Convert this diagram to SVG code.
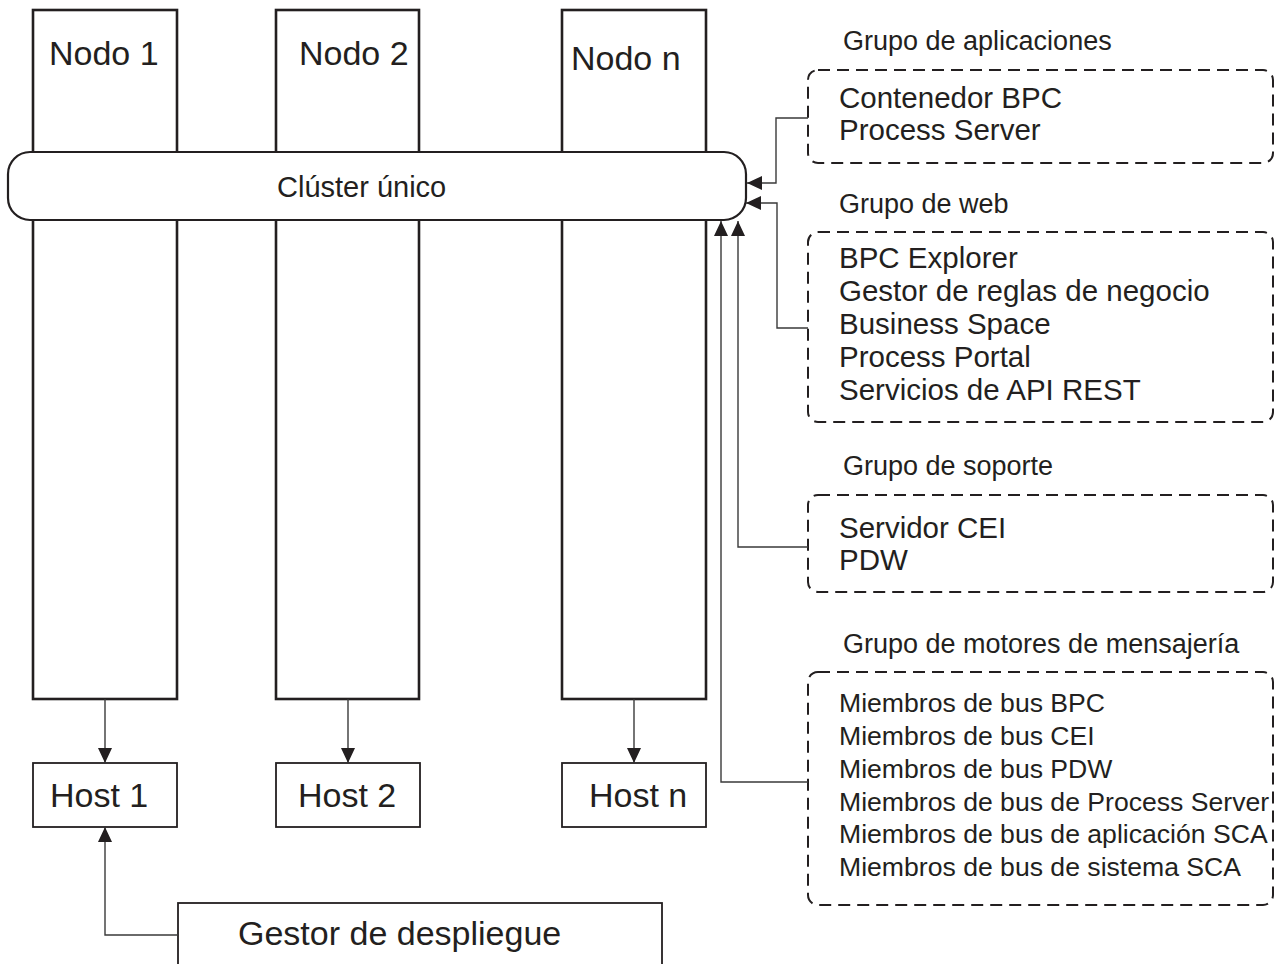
<svg xmlns="http://www.w3.org/2000/svg" width="1275" height="964" viewBox="0 0 1275 964">
<style>
text{font-family:"Liberation Sans",Arial,sans-serif;fill:#231f20}
.big{font-size:34px}
.clu{font-size:29px}
.item{font-size:29.5px}
.title{font-size:27px}
.msg{font-size:26.6px}
.node{fill:#fff;stroke:#231f20;stroke-width:2.6}
.host{fill:#fff;stroke:#231f20;stroke-width:1.8}
.grp{fill:none;stroke:#231f20;stroke-width:2;stroke-dasharray:12 7}
.conn{fill:none;stroke:#3a3a3a;stroke-width:1.4}
</style>
<defs>
<marker id="arr" markerUnits="userSpaceOnUse" markerWidth="16" markerHeight="14" refX="15" refY="7" orient="auto">
<path d="M0,0 L15,7 L0,14 Z" fill="#231f20"/>
</marker>
</defs>
<g id="node1"><rect class="node" x="33" y="10" width="144" height="689"/><text class="big" x="49" y="65">Nodo 1</text></g>
<g id="node2"><rect class="node" x="276" y="10" width="143" height="689"/><text class="big" x="299" y="65">Nodo 2</text></g>
<g id="noden"><rect class="node" x="562" y="10" width="144" height="689"/><text class="big" x="571" y="70">Nodo n</text></g>
<g id="cluster"><rect x="8" y="152" width="738" height="68" rx="22" fill="#fff" stroke="#231f20" stroke-width="2.2"/><text class="clu" x="277" y="197">Clúster único</text></g>
<g id="host1"><rect class="host" x="33" y="763" width="144" height="64"/><text class="big" x="50" y="807">Host 1</text></g>
<g id="host2"><rect class="host" x="276" y="763" width="144" height="64"/><text class="big" x="298" y="807">Host 2</text></g>
<g id="hostn"><rect class="host" x="562" y="763" width="144" height="64"/><text class="big" x="589" y="807">Host n</text></g>
<g id="gestor"><rect class="host" x="178" y="903" width="484" height="80"/><text class="big" x="238" y="945">Gestor de despliegue</text></g>
<g id="grupo-aplicaciones">
<text class="title" x="843" y="50">Grupo de aplicaciones</text>
<rect class="grp" x="808" y="70" width="465" height="93" rx="10"/>
<text class="item" x="839" y="108">Contenedor BPC</text>
<text class="item" x="839" y="140">Process Server</text>
</g>
<g id="grupo-web">
<text class="title" x="839" y="213">Grupo de web</text>
<rect class="grp" x="808" y="232" width="465" height="190" rx="10"/>
<text class="item" x="839" y="268">BPC Explorer</text>
<text class="item" x="839" y="301">Gestor de reglas de negocio</text>
<text class="item" x="839" y="334">Business Space</text>
<text class="item" x="839" y="367">Process Portal</text>
<text class="item" x="839" y="400">Servicios de API REST</text>
</g>
<g id="grupo-soporte">
<text class="title" x="843" y="475">Grupo de soporte</text>
<rect class="grp" x="808" y="495" width="465" height="97" rx="10"/>
<text class="item" x="839" y="538">Servidor CEI</text>
<text class="item" x="839" y="570">PDW</text>
</g>
<g id="grupo-mensajeria">
<text class="title" x="843" y="653">Grupo de motores de mensajería</text>
<rect class="grp" x="808" y="672" width="465" height="233" rx="10"/>
<text class="msg" x="839" y="712">Miembros de bus BPC</text>
<text class="msg" x="839" y="745">Miembros de bus CEI</text>
<text class="msg" x="839" y="778">Miembros de bus PDW</text>
<text class="msg" x="839" y="811">Miembros de bus de Process Server</text>
<text class="msg" x="839" y="843">Miembros de bus de aplicación SCA</text>
<text class="msg" x="839" y="876">Miembros de bus de sistema SCA</text>
</g>
<g id="connectors">
<path class="conn" d="M105 699 V763" marker-end="url(#arr)"/>
<path class="conn" d="M348 699 V763" marker-end="url(#arr)"/>
<path class="conn" d="M634 699 V763" marker-end="url(#arr)"/>
<path class="conn" d="M178 935 H105 V827" marker-end="url(#arr)"/>
<path class="conn" d="M808 118 H776 V183 H747" marker-end="url(#arr)"/>
<path class="conn" d="M808 328 H777 V203 H746" marker-end="url(#arr)"/>
<path class="conn" d="M808 547 H738 V221" marker-end="url(#arr)"/>
<path class="conn" d="M808 782 H721 V221" marker-end="url(#arr)"/>
</g>
</svg>
